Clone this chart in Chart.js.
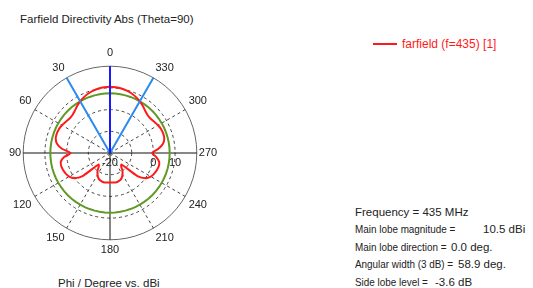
<!DOCTYPE html>
<html>
<head>
<meta charset="utf-8">
<title>Farfield Directivity</title>
<script src="https://cdn.jsdelivr.net/npm/chart.js@4.4.1/dist/chart.umd.min.js"></script>
<style>
  body {
    margin: 0;
    width: 533px;
    height: 288px;
    background: #fff;
    position: relative;
    overflow: hidden;
    font-family: "Liberation Sans", Arial, sans-serif;
    color: #222;
  }
  .txt {
    position: absolute;
    font-size: 11.5px;
    line-height: 14px;
    white-space: pre;
  }
  .tight { transform: scaleX(0.86); transform-origin: 0 0; }
  #polarBox {
    position: absolute;
    left: 6px;
    top: 44px;
    width: 215px;
    height: 215px;
  }
  #legendLine {
    position: absolute;
    left: 373px;
    top: 43px;
    width: 24px;
    height: 2px;
    background: #ff1a1a;
  }
  #legendText { left: 402px; top: 37px; color: #ff1a1a; font-size: 12px; }
</style>
</head>
<body>
  <div class="txt" style="left:20px;top:12px;">Farfield Directivity Abs (Theta=90)</div>
  <div id="polarBox"><canvas id="polarCanvas"></canvas></div>
  <div class="txt" style="left:58px;top:276px;">Phi / Degree vs. dBi</div>

  <div id="legendLine"></div>
  <div class="txt" id="legendText">farfield (f=435) [1]</div>

  <div class="txt" style="left:355px;top:205px;">Frequency = 435 MHz</div>
  <div class="txt tight" style="left:355px;top:222px;">Main lobe magnitude =</div>
  <div class="txt" style="left:483px;top:222px;">10.5 dBi</div>
  <div class="txt tight" style="left:355px;top:240px;">Main lobe direction =</div>
  <div class="txt" style="left:451px;top:240px;">0.0 deg.</div>
  <div class="txt tight" style="left:355px;top:257px;">Angular width (3 dB) =</div>
  <div class="txt" style="left:458px;top:257px;">58.9 deg.</div>
  <div class="txt tight" style="left:355px;top:275px;">Side lobe level =</div>
  <div class="txt" style="left:435px;top:275px;">-3.6 dB</div>

<script>
// phi in degrees (counter-clockwise from top in the plot), 5 degree steps
const phiDeg = [
  0, 5, 10, 15, 20, 25, 30, 35, 40, 45, 50, 55,
  60, 65, 70, 75, 80, 85, 90, 95, 100, 105, 110, 115,
  120, 125, 130, 135, 140, 145, 150, 155, 160, 165, 170, 175,
  180, 185, 190, 195, 200, 205, 210, 215, 220, 225, 230, 235,
  240, 245, 250, 255, 260, 265, 270, 275, 280, 285, 290, 295,
  300, 305, 310, 315, 320, 325, 330, 335, 340, 345, 350, 355
];

// farfield directivity (dBi)
const directivity = [
  10.5, 10.4, 10.2, 9.8, 9.2, 8.4, 7.5, 6.4, 5.3, 4.6, 4.5, 5.0,
  5.6, 6.0, 6.1, 5.9, 4.8, 2.2, -1.8, 1.2, 3.0, 3.3, 3.0, 2.5,
  1.7, 0.2, -3.5, -12.5, -12.0, -10.0, -8.5, -7.3, -6.6, -6.3, -6.2, -6.3,
  -6.4, -6.3, -6.2, -6.3, -6.6, -7.3, -8.5, -10.0, -12.0, -12.5, -3.5, 0.2,
  1.7, 2.5, 3.0, 3.3, 3.0, 1.4, -0.5, 2.4, 4.8, 5.9, 6.1, 6.0,
  5.6, 5.0, 4.5, 4.6, 5.3, 6.4, 7.5, 8.4, 9.2, 9.8, 10.2, 10.4
];

const mainLobeDirection = 0;      // deg
const widthEdges = [30, 330];     // 3 dB beam edges, deg
const halfPowerLevel = 7.5;       // main lobe - 3 dB
const radialTicks = [-20, -10, 0, 10, 20];
const shownTickLabels = [-20, 0, 10];
const phiTickLabels = [0, 30, 60, 90, 120, 150, 180, 210, 240, 270, 300, 330];

const FONT = '"Liberation Sans", Arial, sans-serif';

// radar runs clockwise, the plot runs counter-clockwise
const order = phiDeg.map(a => phiDeg.indexOf((360 - a) % 360));
const labels = order.map(k => phiDeg[k]);
const redData = order.map(k => directivity[k]);
const rMin = radialTicks[0];
const rMax = radialTicks[radialTicks.length - 1];

function spoke(angle) {
  return labels.map(p => (p === angle ? rMax : rMin));
}

// phi label spacing off the outer ring
function labelPadding(phi) {
  if (phi === 0) return 7;
  if (phi === 90 || phi === 270) return 2;
  return 4;
}

const tickLabelPlugin = {
  id: 'tickLabels',
  afterDatasetsDraw(chart) {
    const s = chart.scales.r;
    const ctx = chart.ctx;
    ctx.save();
    ctx.font = '11px ' + FONT;
    ctx.fillStyle = '#222';
    ctx.textAlign = 'center';
    ctx.textBaseline = 'middle';
    s.ticks.forEach(t => {
      if (!shownTickLabels.includes(t.value)) return;
      ctx.fillText(String(t.value), s.xCenter + s.getDistanceFromCenterForValue(t.value), s.yCenter + 10);
    });
    ctx.restore();
  }
};

const ctx = document.getElementById('polarCanvas').getContext('2d');

new Chart(ctx, {
  type: 'radar',
  data: {
    labels: labels,
    datasets: [
      {
        label: 'main lobe',
        data: spoke(mainLobeDirection),
        borderColor: '#1a1aff',
        borderWidth: 2,
        tension: 0,
        fill: false,
        order: 0
      },
      {
        label: 'beam edge 1',
        data: spoke(widthEdges[0]),
        borderColor: '#2b8cf0',
        borderWidth: 2,
        tension: 0,
        fill: false,
        order: 0
      },
      {
        label: 'beam edge 2',
        data: spoke(widthEdges[1]),
        borderColor: '#2b8cf0',
        borderWidth: 2,
        tension: 0,
        fill: false,
        order: 0
      },
      {
        label: 'farfield (f=435) [1]',
        data: redData,
        borderColor: '#ff1a1a',
        borderWidth: 2,
        tension: 0.25,
        fill: false,
        order: 1
      },
      {
        label: '-3 dB level',
        data: labels.map(() => halfPowerLevel),
        borderColor: '#5f9a25',
        borderWidth: 2,
        tension: 0,
        fill: false,
        order: 2
      }
    ]
  },
  options: {
    responsive: true,
    maintainAspectRatio: false,
    animation: false,
    events: [],
    plugins: {
      legend: { display: false },
      tooltip: { enabled: false }
    },
    elements: {
      point: { radius: 0, hoverRadius: 0 }
    },
    scales: {
      r: {
        min: rMin,
        max: rMax,
        ticks: { display: false, stepSize: 10 },
        grid: {
          circular: true,
          lineWidth: 1,
          color: c => (c.tick && c.tick.value === rMax ? '#666' : '#444')
        },
        border: {
          dash: c => (c.tick && c.tick.value === rMax ? [] : [3, 3])
        },
        angleLines: {
          lineWidth: 1,
          color: c => (phiTickLabels.includes(labels[c.index]) ? (labels[c.index] % 90 === 0 ? '#111' : '#444') : 'transparent'),
          borderDash: c => (labels[c.index] % 90 === 0 ? [] : [3, 3])
        },
        pointLabels: {
          color: '#222',
          padding: c => labelPadding(labels[c.index]),
          font: { family: FONT, size: 11 },
          callback: label => (phiTickLabels.includes(label) ? String(label) : '')
        }
      }
    }
  },
  plugins: [tickLabelPlugin]
});
</script>
</body>
</html>
